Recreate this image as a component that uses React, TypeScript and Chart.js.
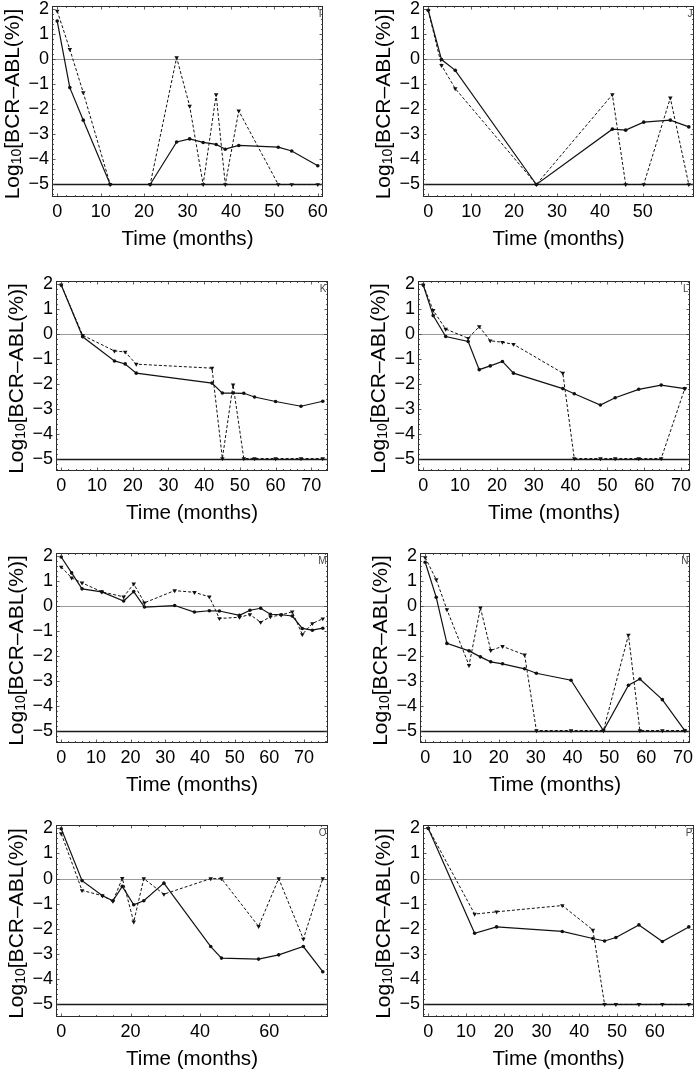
import React, { useEffect, useRef } from "react";
import { Chart, registerables } from "chart.js";

Chart.register(...registerables);

const FONT = "'Liberation Sans', Arial, Helvetica, sans-serif";

// ---------- data ----------
const monthsI = [0, 2.9, 6, 12.2, 21.4, 27.5, 30.5, 33.6, 36.6, 38.7, 41.8, 50.9, 54, 60];
const solidI = [1.53, -1.13, -2.43, -5, -5, -3.3, -3.18, -3.32, -3.4, -3.59, -3.44, -3.51, -3.66, -4.25];
const dashedI = [1.93, 0.4, -1.33, -5, -5, 0.07, -1.87, -5, -1.41, -5, -2.06, -5, -5, -5];

const monthsJ = [0, 3.1, 6.3, 25.2, 42.9, 46, 50.2, 56.4, 60.7];
const solidJ = [1.96, -0.01, -0.44, -5, -2.79, -2.83, -2.51, -2.43, -2.7];
const dashedJ = [1.96, -0.24, -1.17, -5, -1.41, -5, -5, -1.54, -5];

const monthsK = [0, 6, 14.9, 17.9, 21, 42.2, 45.1, 48.1, 51.1, 54.1, 60, 67.1, 73.2];
const solidK = [1.97, -0.11, -1.08, -1.2, -1.57, -1.97, -2.37, -2.37, -2.38, -2.53, -2.71, -2.9, -2.7];
const dashedK = [1.97, -0.05, -0.68, -0.72, -1.21, -1.37, -5, -2.04, -5, -5, -5, -5, -5];

const monthsL = [0, 2.7, 6.1, 12.2, 15.2, 18.2, 21.5, 24.5, 37.9, 41, 48.1, 52.1, 58.5, 64.6, 71];
const solidL = [1.97, 0.74, -0.1, -0.3, -1.43, -1.28, -1.1, -1.57, -2.19, -2.4, -2.85, -2.56, -2.22, -2.05, -2.19];
const dashedL = [1.97, 0.95, 0.2, -0.17, 0.3, -0.27, -0.33, -0.41, -1.57, -5, -5, -5, -5, -5, -2.19];

const monthsM = [0, 3, 6, 11.7, 18, 20.9, 24, 32.7, 38.4, 42.7, 45.6, 51.4, 54.4, 57.5, 60.3, 63.4, 66.6, 69.5, 72.4, 75.4];
const solidM = [1.97, 1.33, 0.69, 0.57, 0.2, 0.58, -0.04, 0.02, -0.24, -0.19, -0.2, -0.37, -0.17, -0.09, -0.33, -0.35, -0.4, -0.9, -0.97, -0.89];
const dashedM = [1.57, 1.13, 0.93, 0.57, 0.37, 0.89, 0.13, 0.62, 0.55, 0.37, -0.5, -0.45, -0.34, -0.65, -0.43, -0.36, -0.23, -1.14, -0.7, -0.51];

const monthsN = [0, 3, 5.9, 11.9, 15, 17.8, 21, 27, 30.2, 39.6, 48.4, 55.2, 58.3, 64.4, 70.5];
const solidN = [1.76, 0.35, -1.5, -1.8, -2.04, -2.24, -2.32, -2.52, -2.7, -2.98, -5, -3.18, -2.93, -3.76, -5];
const dashedN = [1.95, 1.06, -0.14, -2.38, -0.07, -1.78, -1.62, -1.96, -5, -5, -5, -1.16, -5, -5, -5];

const monthsO = [0, 6, 11.9, 14.9, 17.6, 20.9, 23.8, 29.6, 43.1, 46.2, 56.9, 62.7, 69.8, 75.4];
const solidO = [1.98, -0.08, -0.68, -0.88, -0.31, -1.04, -0.88, -0.18, -2.7, -3.16, -3.2, -3.03, -2.7, -3.7];
const dashedO = [1.79, -0.47, -0.68, -0.9, 0.01, -1.72, 0, -0.62, 0, 0, -1.9, 0, -2.4, 0];

const monthsP = [0, 12.3, 18.1, 35.5, 43.6, 46.7, 49.7, 55.8, 62, 69];
const solidP = [2, -2.17, -1.92, -2.1, -2.38, -2.48, -2.34, -1.84, -2.5, -1.92];
const dashedP = [2, -1.41, -1.32, -1.07, -2.04, -5, -5, -5, -5, -5];

const xTicks10to60 = [0, 10, 20, 30, 40, 50, 60];
const xTicks10to50 = [0, 10, 20, 30, 40, 50];
const xTicks10to70 = [0, 10, 20, 30, 40, 50, 60, 70];
const xTicks20to60 = [0, 20, 40, 60];
const yTickValues = [-5, -4, -3, -2, -1, 0, 1, 2];

const Y_MIN = -5.5;
const Y_MAX = 2.13;
const xTitle = "Time (months)";

type PanelDef = {
  label: string;
  months: number[];
  solid: number[];
  dashed: number[];
  xTicks: number[];
  minorX: number;
  frame: [number, number, number, number]; // left, top, right, bottom (page px)
};

const PANELS: PanelDef[] = [
  { label: "I", months: monthsI, solid: solidI, dashed: dashedI, xTicks: xTicks10to60, minorX: 2, frame: [52, 6, 323, 197] },
  { label: "J", months: monthsJ, solid: solidJ, dashed: dashedJ, xTicks: xTicks10to50, minorX: 2, frame: [423, 6, 694, 197] },
  { label: "K", months: monthsK, solid: solidK, dashed: dashedK, xTicks: xTicks10to70, minorX: 2, frame: [56, 281, 328, 471] },
  { label: "L", months: monthsL, solid: solidL, dashed: dashedL, xTicks: xTicks10to70, minorX: 2, frame: [418, 281, 690, 471] },
  { label: "M", months: monthsM, solid: solidM, dashed: dashedM, xTicks: xTicks10to70, minorX: 2, frame: [56, 553, 328, 743] },
  { label: "N", months: monthsN, solid: solidN, dashed: dashedN, xTicks: xTicks10to70, minorX: 2, frame: [420, 553, 690, 743] },
  { label: "O", months: monthsO, solid: solidO, dashed: dashedO, xTicks: xTicks20to60, minorX: 5, frame: [56, 825, 328, 1017] },
  { label: "P", months: monthsP, solid: solidP, dashed: dashedP, xTicks: xTicks10to60, minorX: 2, frame: [423, 825, 694, 1017] },
];

const TOP_PAD = 6;
const X_AXIS_H = 56;

function fmtY(v: number) {
  return v < 0 ? "\u2212" + Math.abs(v) : String(v);
}

function Panel({ def }: { def: PanelDef }) {
  const ref = useRef<HTMLCanvasElement>(null);
  const [fl, ft, fr, fb] = def.frame;
  const cx = fl < 350 ? 0 : 350;
  const cy = ft - TOP_PAD;
  const cw = 350;
  const ch = fb - cy + X_AXIS_H;

  useEffect(() => {
    if (!ref.current) return;
    const lo = Math.min(...def.months);
    const hi = Math.max(...def.months);
    const pad = (hi - lo) * 0.02;
    const xMin = lo - pad;
    const xMax = hi + pad;

    const framePlugin = {
      id: "panelFrame",
      beforeDatasetsDraw(chart: any) {
        const { ctx, chartArea: a, scales } = chart;
        const y = scales.y;
        ctx.save();
        const y0 = Math.round(y.getPixelForValue(0)) + 0.5;
        ctx.strokeStyle = "#9a9a9a";
        ctx.lineWidth = 1;
        ctx.beginPath();
        ctx.moveTo(a.left, y0);
        ctx.lineTo(a.right, y0);
        ctx.stroke();
        const y5 = Math.round(y.getPixelForValue(-5)) + 0.5;
        ctx.strokeStyle = "#1a1a1a";
        ctx.lineWidth = 1.3;
        ctx.beginPath();
        ctx.moveTo(a.left, y5);
        ctx.lineTo(a.right, y5);
        ctx.stroke();
        ctx.restore();
      },
      afterDraw(chart: any) {
        const { ctx, chartArea: a, scales } = chart;
        const x = scales.x;
        const y = scales.y;
        ctx.save();
        // frame
        ctx.strokeStyle = "#2a2a2a";
        ctx.lineWidth = 1;
        ctx.strokeRect(Math.round(a.left) + 0.5, Math.round(a.top) + 0.5, Math.round(a.right - a.left) - 1, Math.round(a.bottom - a.top) - 1);
        // ticks
        ctx.strokeStyle = "#333";
        ctx.lineWidth = 0.8;
        ctx.beginPath();
        const majLen = 3.5;
        const minLen = 2;
        for (let v = Math.ceil(Y_MIN / 0.2) * 0.2; v <= Y_MAX + 1e-9; v += 0.2) {
          const isMaj = Math.abs(v - Math.round(v)) < 1e-6;
          const len = isMaj ? majLen : minLen;
          const py = Math.round(y.getPixelForValue(v)) + 0.5;
          ctx.moveTo(a.left, py);
          ctx.lineTo(a.left + len, py);
          ctx.moveTo(a.right, py);
          ctx.lineTo(a.right - len, py);
        }
        const startX = Math.ceil(xMin / def.minorX) * def.minorX;
        for (let v = startX; v <= xMax + 1e-9; v += def.minorX) {
          const isMaj = def.xTicks.some((t) => Math.abs(t - v) < 1e-6);
          const len = isMaj ? majLen : minLen;
          const px = Math.round(x.getPixelForValue(v)) + 0.5;
          ctx.moveTo(px, a.bottom);
          ctx.lineTo(px, a.bottom - len);
          ctx.moveTo(px, a.top);
          ctx.lineTo(px, a.top + len);
        }
        ctx.stroke();
        // panel letter
        ctx.fillStyle = "#444";
        ctx.font = `10px ${FONT}`;
        ctx.textAlign = "right";
        ctx.textBaseline = "alphabetic";
        ctx.fillText(def.label, a.right - 1.5, a.top + 11);
        // y title with subscript
        const big = `21px ${FONT}`;
        const small = `14px ${FONT}`;
        const p1 = "Log";
        const p2 = "10";
        const p3 = "[BCR\u2013ABL(%)]";
        ctx.font = big;
        const w1 = ctx.measureText(p1).width;
        const w3 = ctx.measureText(p3).width;
        ctx.font = small;
        const w2 = ctx.measureText(p2).width;
        const total = w1 + w2 + w3;
        ctx.translate(a.left - 41, (a.top + a.bottom) / 2 + 2.5);
        ctx.rotate(-Math.PI / 2);
        ctx.fillStyle = "#000";
        ctx.textAlign = "left";
        let px = -total / 2;
        const base = 7.5;
        ctx.font = big;
        ctx.fillText(p1, px, base);
        px += w1;
        ctx.font = small;
        ctx.fillText(p2, px, base + 2);
        px += w2;
        ctx.font = big;
        ctx.fillText(p3, px, base);
        ctx.restore();
      },
    };

    const chart = new Chart(ref.current, {
      type: "line",
      data: {
        datasets: [
          {
            data: def.months.map((m, i) => ({ x: m, y: def.solid[i] })),
            borderColor: "#111",
            borderWidth: 1.2,
            pointStyle: "circle",
            pointRadius: 1.8,
            pointBackgroundColor: "#111",
            pointBorderWidth: 0,
            tension: 0,
          },
          {
            data: def.months.map((m, i) => ({ x: m, y: def.dashed[i] })),
            borderColor: "#111",
            borderWidth: 1,
            borderDash: [3, 2],
            pointStyle: "triangle",
            pointRotation: 180,
            pointRadius: 2.6,
            pointBackgroundColor: "#111",
            pointBorderWidth: 0,
            tension: 0,
          },
        ],
      },
      options: {
        animation: false,
        responsive: false,
        events: [],
        layout: { padding: { top: TOP_PAD, left: 0, right: cx + cw - fr, bottom: 0 } },
        plugins: { legend: { display: false }, tooltip: { enabled: false } },
        scales: {
          x: {
            type: "linear",
            min: xMin,
            max: xMax,
            grid: { display: false, drawTicks: false },
            border: { display: false },
            ticks: {
              font: { family: FONT, size: 18 },
              color: "#000",
              padding: 4,
              maxRotation: 0,
              autoSkip: false,
              callback: (v: any) => String(v),
            },
            title: {
              display: true,
              text: xTitle,
              color: "#000",
              font: { family: FONT, size: 20.6 },
              padding: { top: 0, bottom: 1 },
            },
            afterBuildTicks: (s: any) => {
              s.ticks = def.xTicks.map((v) => ({ value: v }));
            },
            afterFit: (s: any) => {
              s.height = X_AXIS_H;
              s.paddingLeft = 0;
              s.paddingRight = 0;
            },
          },
          y: {
            type: "linear",
            min: Y_MIN,
            max: Y_MAX,
            grid: { display: false, drawTicks: false },
            border: { display: false },
            ticks: {
              font: { family: FONT, size: 18 },
              color: "#000",
              padding: 3,
              autoSkip: false,
              callback: (v: any) => fmtY(Number(v)),
            },
            afterBuildTicks: (s: any) => {
              s.ticks = yTickValues.map((v) => ({ value: v }));
            },
            afterFit: (s: any) => {
              s.width = fl - cx;
              s.paddingTop = 0;
              s.paddingBottom = 0;
            },
          },
        },
      } as any,
      plugins: [framePlugin],
    });
    return () => chart.destroy();
  }, []);

  return (
    <canvas
      ref={ref}
      width={cw}
      height={ch}
      style={{ position: "absolute", left: cx, top: cy, width: cw, height: ch }}
    />
  );
}

export default function App() {
  return (
    <div style={{ position: "absolute", left: 0, top: 0, width: 700, height: 1071, background: "#fff", overflow: "hidden" }}>
      {PANELS.map((p) => (
        <Panel key={p.label} def={p} />
      ))}
    </div>
  );
}
